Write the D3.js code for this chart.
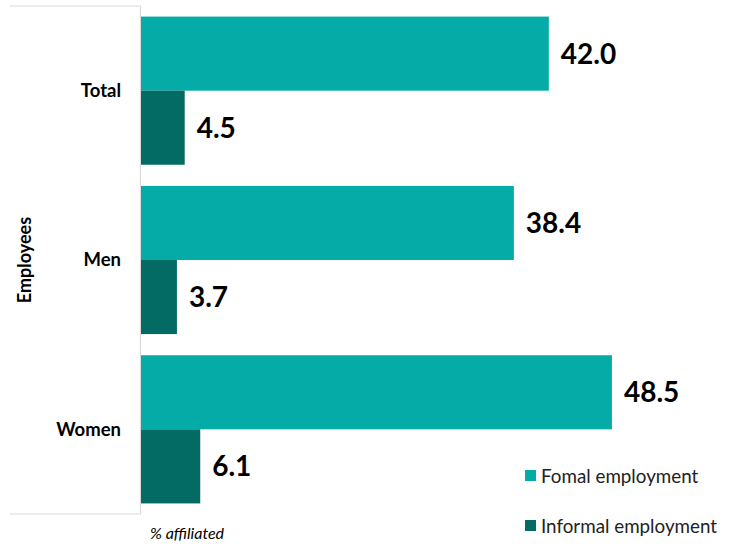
<!DOCTYPE html>
<html><head><meta charset="utf-8">
<script src="https://cdn.jsdelivr.net/npm/d3@7"></script>
<style>body{margin:0;background:#fff}</style>
</head><body>
<svg id="c" width="738" height="544"></svg>
<script>
const categories = ["Total", "Men", "Women"];
const seriesNames = ["Fomal employment", "Informal employment"];
const formal = [42.0, 38.4, 48.5];
const informal = [4.5, 3.7, 6.1];
const groupLabel = "Employees";
const axisNote = "% affiliated";
const colors = ["#05ABA6", "#046A64"];

const svg = d3.select("#c");
const fontB = "Lato, 'Open Sans', 'Noto Sans', sans-serif";
const x = d3.scaleLinear().domain([0, 50]).range([141, 626.5]);
const y = d3.scaleBand().domain(categories).range([6, 514]).paddingInner(0.125).paddingOuter(0.0625);
const sub = d3.scaleBand().domain([0, 1]).range([0, y.bandwidth()]);

// frame lines
const g0 = svg.append("g").attr("stroke", "#d9d9d9").attr("stroke-width", 1.2);
g0.append("line").attr("x1", 10).attr("x2", 141).attr("y1", 6).attr("y2", 6);
g0.append("line").attr("x1", 10).attr("x2", 141).attr("y1", 514).attr("y2", 514);
g0.append("line").attr("x1", 140.5).attr("x2", 140.5).attr("y1", 6).attr("y2", 514);

const data = categories.map((c, i) => [{c, s: 0, v: formal[i]}, {c, s: 1, v: informal[i]}]).flat();

svg.append("g").selectAll("rect").data(data).join("rect")
  .attr("x", x(0)).attr("y", d => y(d.c) + sub(d.s))
  .attr("width", d => x(d.v) - x(0)).attr("height", sub.bandwidth())
  .attr("fill", d => colors[d.s]);

svg.append("g").selectAll("text").data(data).join("text")
  .attr("x", d => x(d.v) + 12).attr("y", d => y(d.c) + sub(d.s) + sub.bandwidth() / 2)
  .attr("dy", "0.36em").attr("font-family", fontB).attr("font-weight", "bold")
  .attr("font-size", 28).attr("fill", "#000").text(d => d.v.toFixed(1));

svg.append("g").selectAll("text").data(categories).join("text")
  .attr("x", 121).attr("y", d => y(d) + y.bandwidth() / 2).attr("dy", "0.35em")
  .attr("text-anchor", "end").attr("font-family", fontB).attr("font-weight", "bold")
  .attr("font-size", 18.5).text(d => d);

svg.append("text").attr("transform", "translate(31,260) rotate(-90)")
  .attr("text-anchor", "middle").attr("font-family", fontB).attr("font-weight", "bold")
  .attr("font-size", 18).text(groupLabel);

svg.append("text").attr("x", 150).attr("y", 539).attr("font-family", fontB)
  .attr("font-style", "italic").attr("font-size", 16).text(axisNote);

const lg = svg.append("g").selectAll("g").data(seriesNames).join("g")
  .attr("transform", (d, i) => `translate(525,${470 + i * 50})`);
lg.append("rect").attr("width", 11).attr("height", 11).attr("fill", (d, i) => colors[i]);
lg.append("text").attr("x", 16).attr("y", 6).attr("dy", "0.35em")
  .attr("font-family", fontB).attr("font-size", 18.8).attr("fill", "#222").text(d => d);
</script>
</body></html>
